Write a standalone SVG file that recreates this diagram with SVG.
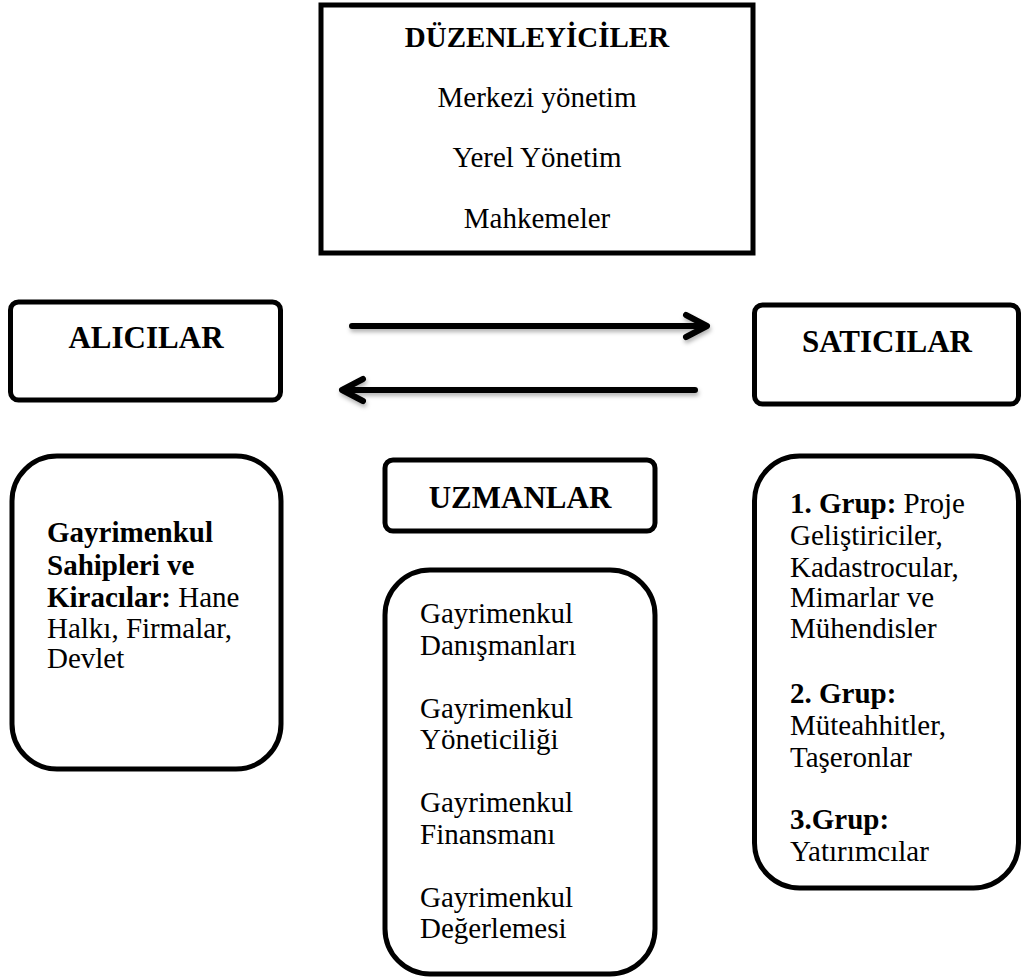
<svg xmlns="http://www.w3.org/2000/svg" width="1022" height="978" viewBox="0 0 1022 978">
  <defs>
    <filter id="soft" x="-5%" y="-50%" width="110%" height="200%">
      <feDropShadow dx="1" dy="3" stdDeviation="2" flood-color="#000" flood-opacity="0.3"/>
    </filter>
  </defs>
  <style>
    .box { fill: #fff; stroke: #000; stroke-width: 5; }
    .hd { font-family: "Liberation Serif", "Times New Roman", serif; font-weight: bold; font-size: 31px; fill: #000; }
    .tx { font-family: "Liberation Serif", "Times New Roman", serif; font-size: 29px; fill: #000; }
    .b { font-weight: bold; }
    .arrow { fill: none; stroke: #000; stroke-width: 6; stroke-linecap: round; stroke-linejoin: round; }
  </style>
  <rect width="1022" height="978" fill="#fff"/>

  <!-- regulators -->
  <g id="duzenleyiciler">
    <rect class="box" x="321" y="5" width="432" height="248"/>
    <text class="tx b" x="537" y="47" text-anchor="middle">DÜZENLEYİCİLER</text>
    <text class="tx" x="537" y="107" text-anchor="middle">Merkezi yönetim</text>
    <text class="tx" x="537" y="167" text-anchor="middle">Yerel Yönetim</text>
    <text class="tx" x="537" y="228" text-anchor="middle">Mahkemeler</text>
  </g>

  <!-- buyers -->
  <g id="alicilar">
    <rect class="box" x="10.5" y="302" width="270" height="98" rx="8"/>
    <text class="hd" x="146" y="348" text-anchor="middle">ALICILAR</text>
  </g>

  <!-- sellers -->
  <g id="saticilar">
    <rect class="box" x="754.5" y="305" width="264" height="99" rx="8"/>
    <text class="hd" x="887" y="352" text-anchor="middle">SATICILAR</text>
  </g>

  <!-- experts -->
  <g id="uzmanlar">
    <rect class="box" x="385" y="460" width="270" height="71" rx="8"/>
    <text class="hd" x="520" y="508" text-anchor="middle">UZMANLAR</text>
  </g>

  <g id="alici-detay">
    <rect class="box" x="12" y="456" width="269" height="313" rx="45"/>
    <text class="tx" x="47">
      <tspan class="b" x="47" y="542">Gayrimenkul</tspan>
      <tspan class="b" x="47" y="575">Sahipleri ve</tspan>
      <tspan x="47" y="607"><tspan class="b">Kiracılar:</tspan> Hane</tspan>
      <tspan x="47" y="638">Halkı, Firmalar,</tspan>
      <tspan x="47" y="668">Devlet</tspan>
    </text>
  </g>

  <g id="uzman-detay">
    <rect class="box" x="385" y="570" width="270" height="404" rx="45"/>
    <text class="tx">
      <tspan x="420" y="623">Gayrimenkul</tspan>
      <tspan x="420" y="655">Danışmanları</tspan>
      <tspan x="420" y="718">Gayrimenkul</tspan>
      <tspan x="420" y="749">Yöneticiliği</tspan>
      <tspan x="420" y="812">Gayrimenkul</tspan>
      <tspan x="420" y="844">Finansmanı</tspan>
      <tspan x="420" y="907">Gayrimenkul</tspan>
      <tspan x="420" y="938">Değerlemesi</tspan>
    </text>
  </g>

  <g id="satici-detay">
    <rect class="box" x="754.5" y="456" width="264" height="432" rx="45"/>
    <text class="tx">
      <tspan x="790" y="513"><tspan class="b">1. Grup:</tspan> Proje</tspan>
      <tspan x="790" y="545">Geliştiriciler,</tspan>
      <tspan x="790" y="577">Kadastrocular,</tspan>
      <tspan x="790" y="607">Mimarlar ve</tspan>
      <tspan x="790" y="638">Mühendisler</tspan>
      <tspan class="b" x="790" y="703">2. Grup:</tspan>
      <tspan x="790" y="735">Müteahhitler,</tspan>
      <tspan x="790" y="767">Taşeronlar</tspan>
      <tspan class="b" x="790" y="829">3.Grup:</tspan>
      <tspan x="790" y="861">Yatırımcılar</tspan>
    </text>
  </g>

  <!-- exchange arrows between buyers and sellers -->
  <g id="connectors" filter="url(#soft)">
    <path class="arrow" d="M352 326 H705 M686 315 L707 326 L686 337"/>
    <path class="arrow" d="M695 390 H344 M363 379 L342 390 L363 401"/>
  </g>
</svg>
